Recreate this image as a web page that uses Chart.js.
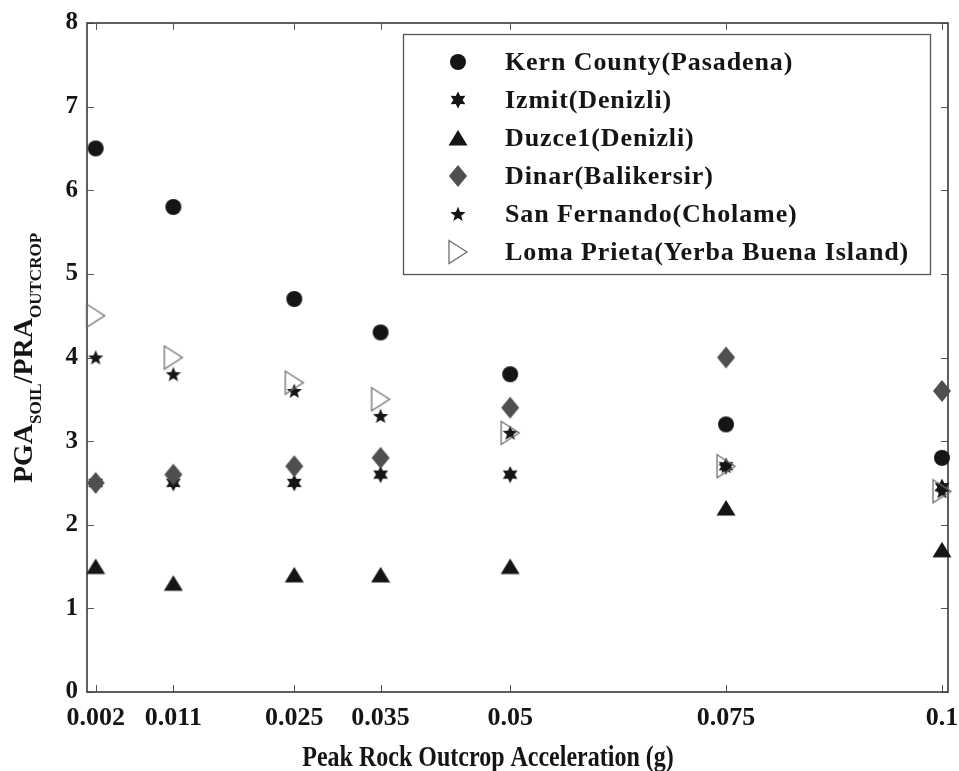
<!DOCTYPE html>
<html>
<head>
<meta charset="utf-8">
<script src="https://cdn.jsdelivr.net/npm/chart.js@4.4.1/dist/chart.umd.min.js"></script>
<style>
  html, body { margin: 0; padding: 0; background: #ffffff; }
  #wrap { width: 959px; height: 771px; }
</style>
</head>
<body>
<div id="wrap"><canvas id="chart" width="959" height="771"></canvas></div>
<script>
// Peak rock outcrop acceleration levels (g) and their axis labels
const xValues = [0.002, 0.011, 0.025, 0.035, 0.05, 0.075, 0.1];
const xTickLabels = ['0.002', '0.011', '0.025', '0.035', '0.05', '0.075', '0.1'];
const yTickValues = [0, 1, 2, 3, 4, 5, 6, 7, 8];

// PGA(soil) / PRA(outcrop) ratios for each input motion
const kernCounty  = [6.5, 5.8, 4.7, 4.3, 3.8, 3.2, 2.8];
const izmit       = [2.5, 2.5, 2.5, 2.6, 2.6, 2.7, 2.45];
const duzce1      = [1.5, 1.3, 1.4, 1.4, 1.5, 2.2, 1.7];
const dinar       = [2.5, 2.6, 2.7, 2.8, 3.4, 4.0, 3.6];
const sanFernando = [4.0, 3.8, 3.6, 3.3, 3.1, 2.7, 2.4];
const lomaPrieta  = [4.5, 4.0, 3.7, 3.5, 3.1, 2.7, 2.4];

const seriesNames = [
  'Kern County(Pasadena)',
  'Izmit(Denizli)',
  'Duzce1(Denizli)',
  'Dinar(Balikersir)',
  'San Fernando(Cholame)',
  'Loma Prieta(Yerba Buena Island)'
];
const xTitle = 'Peak Rock Outcrop Acceleration (g)';

const FONT = '"Liberation Serif", "Times New Roman", serif';
const INK = '#151515';

// ---- marker glyphs drawn onto small canvases ----
function makeMarker(w, h, draw) {
  const c = document.createElement('canvas');
  c.width = w; c.height = h;
  const g = c.getContext('2d');
  draw(g, w, h);
  return c;
}
function starPath(g, cx, cy, n, rOut, rIn, rot) {
  g.beginPath();
  for (let i = 0; i < n * 2; i++) {
    const r = i % 2 === 0 ? rOut : rIn;
    const a = rot + i * Math.PI / n;
    const px = cx + r * Math.sin(a), py = cy - r * Math.cos(a);
    if (i === 0) g.moveTo(px, py); else g.lineTo(px, py);
  }
  g.closePath();
}
const mkCircle = makeMarker(18, 18, (g) => {
  g.fillStyle = INK; g.beginPath(); g.arc(9, 9, 8, 0, Math.PI * 2); g.fill();
});
const mkHexagram = makeMarker(18, 18, (g) => {
  g.fillStyle = INK; starPath(g, 9, 9, 6, 8.5, 4.6, 0); g.fill();
});
const mkTriangle = makeMarker(20, 18, (g) => {
  g.fillStyle = INK; g.beginPath();
  g.moveTo(10, 1); g.lineTo(19.5, 16.5); g.lineTo(0.5, 16.5); g.closePath(); g.fill();
});
const mkDiamond = makeMarker(20, 24, (g) => {
  g.fillStyle = '#4f4f4f'; g.beginPath();
  g.moveTo(10, 1); g.lineTo(19, 12); g.lineTo(10, 23); g.lineTo(1, 12); g.closePath(); g.fill();
});
const mkPentagram = makeMarker(18, 18, (g) => {
  g.fillStyle = INK; starPath(g, 9, 9.6, 5, 8, 3.4, 0); g.fill();
});
const mkRightTri = makeMarker(22, 26, (g) => {
  g.strokeStyle = '#707070'; g.lineWidth = 1.3; g.beginPath();
  g.moveTo(2, 1.5); g.lineTo(20, 13); g.lineTo(2, 24.5); g.closePath(); g.stroke();
});
const markers = [mkCircle, mkHexagram, mkTriangle, mkDiamond, mkPentagram, mkRightTri];
const seriesValues = [kernCounty, izmit, duzce1, dinar, sanFernando, lomaPrieta];

const datasets = seriesValues.map((vals, i) => ({
  label: seriesNames[i],
  data: xValues.map((x, k) => ({ x: x, y: vals[k] })),
  pointStyle: markers[i],
  pointRadius: 9,
  showLine: false,
  clip: false,
  order: seriesValues.length - i   // later series are painted on top
}));

// frame with inward ticks on all four sides
const framePlugin = {
  id: 'frame',
  beforeDatasetsDraw(chart) {
    const { ctx, chartArea: a, scales: { x, y } } = chart;
    const len = 7;
    ctx.save();
    ctx.strokeStyle = '#555555';
    ctx.lineWidth = 1;
    ctx.beginPath();
    x.ticks.forEach(t => {
      const px = Math.round(x.getPixelForValue(t.value)) + 0.5;
      ctx.moveTo(px, a.bottom); ctx.lineTo(px, a.bottom - len);
      ctx.moveTo(px, a.top); ctx.lineTo(px, a.top + len);
    });
    y.ticks.forEach(t => {
      const py = Math.round(y.getPixelForValue(t.value)) + 0.5;
      ctx.moveTo(a.left, py); ctx.lineTo(a.left + len, py);
      ctx.moveTo(a.right, py); ctx.lineTo(a.right - len, py);
    });
    ctx.stroke();
    ctx.lineWidth = 1.7;
    ctx.strokeStyle = '#454545';
    ctx.strokeRect(a.left, a.top, a.right - a.left, a.bottom - a.top);
    ctx.restore();
  }
};

// axis titles: condensed x title, y title with subscripts
const titlesPlugin = {
  id: 'axisTitles',
  afterDraw(chart) {
    const { ctx, chartArea: a } = chart;
    ctx.save();
    ctx.fillStyle = INK;
    ctx.textBaseline = 'alphabetic';

    ctx.save();
    ctx.translate(488, 766);
    ctx.scale(0.8, 1);
    ctx.font = 'bold 30px ' + FONT;
    ctx.textAlign = 'center';
    ctx.fillText(xTitle, 0, 0);
    ctx.restore();

    const parts = [
      { t: 'PGA', sub: false }, { t: 'SOIL', sub: true },
      { t: '/PRA', sub: false }, { t: 'OUTCROP', sub: true }
    ];
    const big = 'bold 28px ' + FONT, small = 'bold 17px ' + FONT;
    let total = 0;
    parts.forEach(p => { ctx.font = p.sub ? small : big; p.w = ctx.measureText(p.t).width; total += p.w; });
    ctx.translate(32, 358);
    ctx.rotate(-Math.PI / 2);
    let cx = -total / 2;
    parts.forEach(p => {
      ctx.font = p.sub ? small : big;
      ctx.fillText(p.t, cx, p.sub ? 9 : 0);
      cx += p.w;
    });
    ctx.restore();
  }
};

// boxed legend in the upper right of the plot
const legendPlugin = {
  id: 'boxLegend',
  afterDraw(chart) {
    const { ctx } = chart;
    const box = { x: 403, y: 34, w: 527, h: 240 };
    ctx.save();
    ctx.fillStyle = '#ffffff';
    ctx.fillRect(box.x, box.y, box.w, box.h);
    ctx.strokeStyle = '#555555';
    ctx.lineWidth = 1.3;
    ctx.strokeRect(box.x + 0.5, box.y + 0.5, box.w, box.h);
    ctx.font = 'bold 26px ' + FONT;
    ctx.letterSpacing = '0.9px';
    ctx.fillStyle = INK;
    ctx.textBaseline = 'middle';
    chart.data.datasets.forEach((ds, i) => {
      const cy = 62 + i * 38;
      const m = ds.pointStyle;
      ctx.drawImage(m, 458 - m.width / 2, cy - m.height / 2);
      ctx.fillText(ds.label, 505, cy + 1);
    });
    ctx.restore();
  }
};

new Chart(document.getElementById('chart'), {
  type: 'scatter',
  data: { datasets },
  options: {
    responsive: false,
    animation: false,
    events: [],
    layout: { padding: { top: 23, right: 11, left: 0, bottom: 0 } },
    plugins: { legend: { display: false }, tooltip: { enabled: false } },
    scales: {
      x: {
        type: 'linear',
        min: 0.001,
        max: 0.1007,
        afterBuildTicks(scale) { scale.ticks = xValues.map(v => ({ value: v })); },
        afterFit(scale) { scale.height = 79; scale.paddingLeft = 0; scale.paddingRight = 0; },
        grid: { display: false, drawTicks: false },
        border: { display: false },
        ticks: {
          autoSkip: false,
          maxRotation: 0,
          padding: 11,
          color: INK,
          font: { family: FONT, size: 26, weight: 'bold' },
          callback: (v, i) => xTickLabels[i]
        }
      },
      y: {
        min: 0,
        max: 8,
        afterBuildTicks(scale) { scale.ticks = yTickValues.map(v => ({ value: v })); },
        afterFit(scale) { scale.width = 87; scale.paddingTop = 0; scale.paddingBottom = 0; },
        grid: { display: false, drawTicks: false },
        border: { display: false },
        ticks: {
          padding: 9,
          color: INK,
          font: { family: FONT, size: 25, weight: 'bold' }
        }
      }
    }
  },
  plugins: [framePlugin, titlesPlugin, legendPlugin]
});
</script>
</body>
</html>
